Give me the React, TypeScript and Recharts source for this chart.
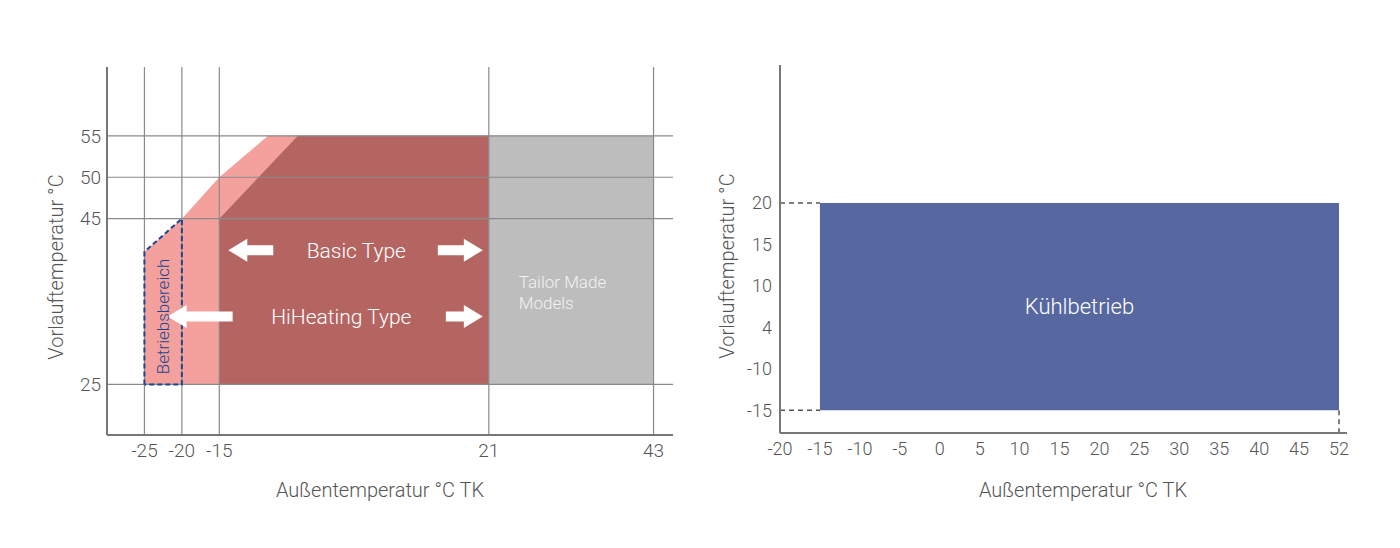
import React from 'react';
import { ComposedChart, Area, Line, XAxis, YAxis, ReferenceLine, ReferenceDot } from 'recharts';

// Heizbetrieb (left chart)
const heatX = [-25, -20, -15, -8.5, -4.5, 21, 43];
const heatFloor = 25;
const hiHeatingTop = [41, 45, 50, 55, 55, 55, null];
const basicTop = [null, null, 45, null, 55, 55, null];
const tailorTop = [null, null, null, null, null, 55, 55];
const heatXTicks = [-25, -20, -15, 21, 43];
const heatYTicks = [25, 45, 50, 55];
const betriebX = [-25, -25, -20, -20, -25];
const betriebY = [25, 41, 45, 25, 25];

// Kühlbetrieb (right chart) - evenly spaced tick categories
const coolXTicks = [-20, -15, -10, -5, 0, 5, 10, 15, 20, 25, 30, 35, 40, 45, 52];
const coolYTicks = [-15, -10, 4, 10, 15, 20];
const coolXRange = [-15, 52];
const coolYRange = [-15, 20];

const FONT = "Roboto, 'Liberation Sans', Arial, sans-serif";
const TEXT = '#555';
const AXIS = '#777';
const GRID = '#8a8a8a';

const band = (top: number | null) => (top == null ? null : [heatFloor, top]);
const heatData = heatX.map((x, i) => ({
  x,
  hi: band(hiHeatingTop[i]),
  basic: band(basicTop[i]),
  tailor: band(tailorTop[i]),
}));
const betriebData = betriebX.map((x, i) => ({ x, y: betriebY[i] }));

const cx = (v: number) => coolXTicks.indexOf(v);
const cy = (v: number) => coolYTicks.indexOf(v);
const coolData = [
  { x: cx(coolXRange[0]), band: [cy(coolYRange[0]), cy(coolYRange[1])] },
  { x: cx(coolXRange[1]), band: [cy(coolYRange[0]), cy(coolYRange[1])] },
];
const coolYMin = -0.55;

const arrow = (dir: number, len: number) => (p: any) => {
  const x = p.cx;
  const y = p.cy;
  const hb = x - dir * 19;
  const se = x - dir * len;
  const pts = [
    [x, y], [hb, y - 11.5], [hb, y - 5], [se, y - 5], [se, y + 5], [hb, y + 5], [hb, y + 11.5],
  ].map((q) => q.join(',')).join(' ');
  return <polygon points={pts} fill="#fff" />;
};

const title = (text: string, x: number, y: number, angle = 0) => () => (
  <text
    x={x}
    y={y}
    textAnchor="middle"
    dominantBaseline="central"
    fill={TEXT}
    fontSize={20}
    fontWeight={300}
    transform={angle ? `rotate(${angle} ${x} ${y})` : undefined}
  >
    {text}
  </text>
);

function HeatChart() {
  return (
    <ComposedChart width={700} height={548} data={heatData} margin={{ top: 67, right: 27, bottom: 83, left: 47 }}>
      <XAxis
        dataKey="x"
        type="number"
        domain={[-30, 45.6]}
        ticks={heatXTicks}
        allowDataOverflow
        height={30}
        tickLine={false}
        tickSize={0}
        tickMargin={9}
        axisLine={{ stroke: AXIS, strokeWidth: 2 }}
        tick={{ fill: TEXT, fontSize: 19, fontWeight: 300 }}
        label={title('Außentemperatur °C TK', 380, 490)}
      />
      <YAxis
        type="number"
        domain={[18.9, 63.3]}
        ticks={heatYTicks}
        allowDataOverflow
        width={60}
        tickLine={false}
        tickSize={0}
        tickMargin={6}
        axisLine={{ stroke: AXIS, strokeWidth: 2 }}
        tick={{ fill: TEXT, fontSize: 19, fontWeight: 300 }}
        label={title('Vorlauftemperatur °C', 56, 267, -90)}
      />
      <Area dataKey="hi" type="linear" fill="#f4a19e" fillOpacity={1} stroke="none" connectNulls isAnimationActive={false} />
      <Area dataKey="basic" type="linear" fill="#b46562" fillOpacity={1} stroke="none" connectNulls isAnimationActive={false} />
      <Area dataKey="tailor" type="linear" fill="#bdbdbd" fillOpacity={1} stroke="none" connectNulls isAnimationActive={false} />
      {heatYTicks.map((v) => (
        <ReferenceLine key={'h' + v} y={v} stroke={GRID} strokeWidth={1.2} />
      ))}
      {heatXTicks.map((v) => (
        <ReferenceLine key={'v' + v} x={v} stroke={GRID} strokeWidth={1.2} />
      ))}
      <Line
        data={betriebData}
        dataKey="y"
        type="linear"
        stroke="#1d4592"
        strokeWidth={2}
        strokeDasharray="5 3"
        dot={false}
        isAnimationActive={false}
      />
      <ReferenceDot x={-13.8} y={41.2} r={0} shape={arrow(-1, 45)} />
      <ReferenceDot x={20.2} y={41.2} r={0} shape={arrow(1, 45)} />
      <ReferenceDot x={-21.9} y={33.2} r={0} shape={arrow(-1, 65)} />
      <ReferenceDot x={20.2} y={33.2} r={0} shape={arrow(1, 37)} />
      <ReferenceDot x={3.3} y={41.2} r={0} label={{ value: 'Basic Type', position: 'center', fill: '#fff', fontSize: 21, fontWeight: 300 }} />
      <ReferenceDot x={1.3} y={33.2} r={0} label={{ value: 'HiHeating Type', position: 'center', fill: '#fff', fontSize: 21, fontWeight: 300 }} />
      <ReferenceDot
        x={-22.5}
        y={33.2}
        r={0}
        label={{ value: 'Betriebsbereich', position: 'center', angle: -90, fill: '#1d4592', fontSize: 17, fontWeight: 300 }}
      />
      <ReferenceDot
        x={25}
        y={36.1}
        r={0}
        shape={(p: any) => (
          <text x={p.cx} y={p.cy} fill="#f2f2f2" fontSize={17} fontWeight={300}>
            <tspan x={p.cx} dy={-4}>Tailor Made</tspan>
            <tspan x={p.cx} dy={21}>Models</tspan>
          </text>
        )}
      />
    </ComposedChart>
  );
}

function CoolChart() {
  return (
    <ComposedChart width={700} height={548} data={coolData} margin={{ top: 65, right: 53, bottom: 85, left: 20 }}>
      <XAxis
        dataKey="x"
        type="number"
        domain={[0, 14.2]}
        ticks={coolXTicks.map((_, i) => i)}
        tickFormatter={(i: number) => String(coolXTicks[i])}
        allowDataOverflow
        height={30}
        tickLine={false}
        tickSize={0}
        tickMargin={9}
        axisLine={{ stroke: AXIS, strokeWidth: 2 }}
        tick={{ fill: TEXT, fontSize: 18, fontWeight: 300 }}
        label={title('Außentemperatur °C TK', 383, 490)}
      />
      <YAxis
        type="number"
        domain={[coolYMin, 8.33]}
        ticks={coolYTicks.map((_, i) => i)}
        tickFormatter={(i: number) => String(coolYTicks[i])}
        allowDataOverflow
        width={60}
        tickLine={false}
        tickSize={0}
        tickMargin={8}
        axisLine={{ stroke: AXIS, strokeWidth: 2 }}
        tick={{ fill: TEXT, fontSize: 18, fontWeight: 300 }}
        label={title('Vorlauftemperatur °C', 27, 266, -90)}
      />
      <Area dataKey="band" type="linear" fill="#5767a0" fillOpacity={1} stroke="none" isAnimationActive={false} />
      <ReferenceLine
        segment={[{ x: 0, y: cy(coolYRange[1]) }, { x: cx(coolXRange[0]), y: cy(coolYRange[1]) }]}
        stroke="#555"
        strokeWidth={1.5}
        strokeDasharray="5 4"
      />
      <ReferenceLine
        segment={[{ x: 0, y: cy(coolYRange[0]) }, { x: cx(coolXRange[0]), y: cy(coolYRange[0]) }]}
        stroke="#555"
        strokeWidth={1.5}
        strokeDasharray="5 4"
      />
      <ReferenceLine
        segment={[{ x: cx(coolXRange[1]), y: cy(coolYRange[0]) }, { x: cx(coolXRange[1]), y: coolYMin }]}
        stroke="#555"
        strokeWidth={1.5}
        strokeDasharray="5 4"
      />
      <ReferenceDot
        x={(cx(coolXRange[0]) + cx(coolXRange[1])) / 2}
        y={(cy(coolYRange[0]) + cy(coolYRange[1])) / 2}
        r={0}
        label={{ value: 'Kühlbetrieb', position: 'center', fill: '#fff', fontSize: 22, fontWeight: 300 }}
      />
    </ComposedChart>
  );
}

export default function App() {
  return (
    <div style={{ position: 'absolute', left: 0, top: 0, width: 1400, height: 548, background: '#fff', fontFamily: FONT }}>
      <div style={{ position: 'absolute', left: 0, top: 0 }}>
        <HeatChart />
      </div>
      <div style={{ position: 'absolute', left: 700, top: 0 }}>
        <CoolChart />
      </div>
    </div>
  );
}
